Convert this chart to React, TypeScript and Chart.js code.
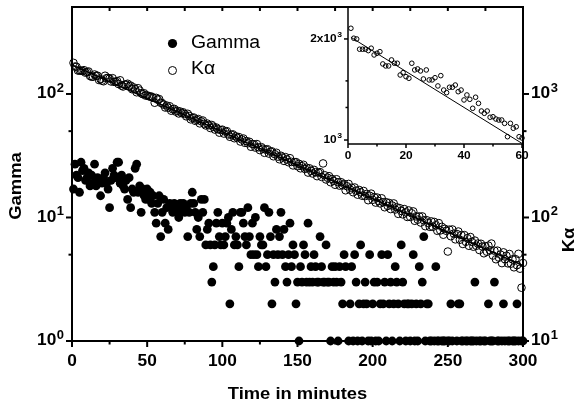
import React, { useEffect, useRef } from 'react';
import { Chart, registerables } from 'chart.js';

Chart.register(...registerables);

// ---------- data ----------
// one value per minute, t = 1 .. 300
const gammaCounts = [
  17, 27, 22, 21, 16, 28, 24, 25, 20, 21,
  23, 18, 22, 19, 27, 18, 21, 20, 15, 19,
  21, 23, 19, 17, 12, 20, 25, 22, 21, 28,
  28, 19, 22, 18, 17, 20, 14, 21, 12, 17,
  16, 25, 27, 16, 18, 11, 17, 15, 14, 17,
  14, 16, 13, 15, 11, 9, 13, 15, 7, 11,
  14, 9, 12, 8, 13, 12, 11, 13, 12, 11,
  10, 13, 12, 13, 11, 12, 7, 11, 13, 16,
  13, 11, 8, 10, 7, 14, 11, 14, 6, 8,
  9, 6, 3, 4, 6, 9, 11, 7, 6, 9,
  6, 7, 9, 10, 2, 8, 11, 6, 7, 6,
  4, 11, 11, 9, 7, 6, 12, 7, 5, 9,
  5, 10, 5, 4, 7, 6, 6, 12, 4, 5,
  11, 7, 2, 5, 3, 8, 5, 7, 11, 5,
  8, 4, 3, 5, 9, 4, 6, 5, 2, 3,
  1, 4, 3, 6, 5, 3, 9, 3, 4, 3,
  5, 4, 3, 3, 7, 4, 3, 3, 6, 3,
  3, 1, 4, 3, 4, 3, 1, 4, 3, 2,
  5, 4, 0, 1, 2, 4, 1, 5, 3, 1,
  2, 6, 1, 2, 3, 2, 1, 5, 1, 2,
  3, 1, 3, 1, 2, 5, 2, 3, 1, 5,
  2, 3, 1, 2, 4, 3, 2, 1, 6, 3,
  2, 1, 2, 2, 1, 2, 5, 1, 2, 1,
  4, 2, 3, 7, 1, 2, 2, 1, 1, 0,
  1, 4, 1, 1, 0, 1, 1, 1, 0, 1,
  1, 2, 1, 0, 0, 1, 2, 2, 1, 1,
  0, 1, 1, 0, 1, 1, 1, 3, 1, 0,
  1, 1, 0, 1, 1, 0, 2, 1, 1, 1,
  3, 0, 1, 1, 0, 1, 2, 1, 0, 1,
  1, 0, 1, 1, 1, 2, 1, 0, 1, 1,
];

const kaCounts = [
  1786, 1668, 1660, 1547, 1547, 1547, 1532, 1558, 1487, 1505,
  1521, 1399, 1379, 1379, 1438, 1405, 1405, 1296, 1317, 1282,
  1267, 1405, 1342, 1351, 1333, 1262, 1342, 1253, 1253, 1272,
  1203, 1291, 1169, 1149, 1192, 1192, 1210, 1156, 1169, 1092,
  1130, 1097, 1032, 1113, 1067, 1013, 997, 1013, 970, 974,
  959, 952, 952, 930, 849, 930, 900, 909, 849, 842,
  819, 777, 806, 774, 795, 732, 752, 758, 720, 732,
  695, 721, 699, 710, 688, 659, 691, 663, 623, 640,
  645, 606, 617, 627, 578, 600, 610, 574, 556, 576,
  558, 530, 561, 543, 515, 535, 518, 486, 510, 514,
  478, 496, 500, 470, 450, 467, 471, 438, 454, 440,
  448, 412, 428, 436, 402, 416, 399, 410, 374, 393,
  391, 368, 393, 370, 351, 371, 360, 334, 354, 357,
  329, 341, 343, 313, 325, 334, 311, 296, 316, 306,
  287, 308, 295, 280, 302, 282, 264, 280, 281, 260,
  272, 250, 260, 267, 247, 253, 231, 250, 239, 227,
  243, 233, 216, 230, 233, 213, 274, 220, 203, 210,
  216, 193, 205, 198, 184, 204, 193, 181, 193, 182,
  187, 166, 179, 187, 168, 174, 160, 175, 165, 153,
  167, 160, 150, 164, 149, 155, 138, 150, 156, 139,
  146, 132, 145, 136, 130, 143, 133, 121, 133, 124,
  131, 117, 125, 130, 116, 121, 107, 119, 113, 106,
  117, 110, 101, 114, 101, 108, 112, 94, 102, 96,
  102, 91, 102, 95, 85, 95, 90, 84, 93, 84,
  92, 86.5, 78, 90, 78.5, 84, 72.5, 81, 78, 53,
  79.7, 70.5, 80, 74, 66.5, 73.5, 77, 66, 72, 61,
  72, 63.5, 68, 59, 69.5, 63.5, 58, 65, 59, 61.5,
  54.5, 61.3, 58.2, 51.3, 58.5, 52.8, 59.2, 54.1, 61.5, 49.2,
  53.8, 45.9, 53.9, 47.3, 50.1, 42.7, 52.2, 45.9, 49, 42.5,
  50.6, 42.3, 45.8, 39.5, 46, 41.1, 50.8, 38.5, 27, 42.8,
];

// inset: first 60 minutes of K-alpha
const insetKa = [
  2152, 2010, 2000, 1864, 1864, 1864, 1846, 1877, 1792, 1813,
  1833, 1685, 1662, 1662, 1732, 1693, 1693, 1562, 1587, 1544,
  1527, 1693, 1617, 1628, 1606, 1520, 1617, 1510, 1510, 1533,
  1449, 1555, 1409, 1384, 1436, 1436, 1458, 1393, 1409, 1316,
  1362, 1322, 1243, 1341, 1286, 1220, 1201, 1220, 1169, 1173,
  1155, 1147, 1147, 1121, 1023, 1121, 1084, 1095, 1023, 1014,
];

// exponential fits (straight on log axes): end points
const fitMainT = [0, 300];
const fitMainKa = [1718, 40.8];
const fitInsetT = [1, 60];
const fitInsetKa = [2023, 977];

// axes
const xMajor = [0, 50, 100, 150, 200, 250, 300];
const xMinor = [25, 75, 125, 175, 225, 275];
const xTop = [25, 50, 75, 100, 125, 150, 175, 200, 225, 250, 275];
const gammaMajor = [1, 10, 100];
const gammaMinor = [5, 50];
const kaMajor = [10, 100, 1000];
const kaMinor = [50, 500];
const insetXMajor = [0, 20, 40, 60];
const insetXMinor = [10, 30, 50];
const insetYMajor = [1000, 2000];
const insetYLabels = ['10', '2x10'];
const insetYMinor = [1250, 1500];

const seriesNames = ['Gamma', 'K\u03b1'];
const xTitle = 'Time in minutes';

// ---------- drawing helpers ----------
const FONT = '"Liberation Sans", Arial, Helvetica, sans-serif';
const SX = 1.08;

function drawText(ctx: any, s: string, x: number, y: number, font: string, align = 'left') {
  ctx.save();
  ctx.font = font;
  ctx.textBaseline = 'middle';
  ctx.textAlign = 'left';
  const w = ctx.measureText(s).width * SX;
  const x0 = align === 'left' ? x : align === 'right' ? x - w : x - w / 2;
  ctx.translate(x0, y);
  ctx.scale(SX, 1);
  ctx.fillStyle = '#000';
  ctx.fillText(s, 0, 0);
  ctx.restore();
  return w;
}

function drawPow(ctx: any, base: string, exp: string, x: number, y: number, align: string, bs: number, es: number) {
  ctx.save();
  ctx.font = `bold ${bs}px ${FONT}`;
  const wb = ctx.measureText(base).width * SX;
  ctx.font = `bold ${es}px ${FONT}`;
  const we = ctx.measureText(exp).width * SX;
  ctx.restore();
  const gap = 0.5;
  const total = wb + gap + we;
  const x0 = align === 'left' ? x : align === 'right' ? x - total : x - total / 2;
  drawText(ctx, base, x0, y, `bold ${bs}px ${FONT}`);
  drawText(ctx, exp, x0 + wb + gap, y - bs * 0.36, `bold ${es}px ${FONT}`);
}

function seg(ctx: any, x1: number, y1: number, x2: number, y2: number) {
  ctx.beginPath();
  ctx.moveTo(x1, y1);
  ctx.lineTo(x2, y2);
  ctx.stroke();
}

function drawRotated(ctx: any, s: string, cx: number, cy: number, font: string, angle: number) {
  ctx.save();
  ctx.translate(cx, cy);
  ctx.rotate(angle);
  drawText(ctx, s, 0, 0, font, 'center');
  ctx.restore();
}

const mainDecor = {
  id: 'mainDecor',
  beforeDatasetsDraw(chart: any) {
    const { ctx, chartArea: a, scales } = chart;
    const x = scales.x, yl = scales.y, yr = scales.y2;
    ctx.save();
    ctx.strokeStyle = '#000';
    ctx.lineWidth = 2;
    ctx.lineCap = 'butt';
    ctx.strokeRect(a.left, a.top, a.right - a.left, a.bottom - a.top);
    for (const v of xMajor) {
      const p = x.getPixelForValue(v);
      seg(ctx, p, a.bottom, p, a.bottom + 6);
    }
    for (const v of xMinor) {
      const p = x.getPixelForValue(v);
      seg(ctx, p, a.bottom, p, a.bottom + 3.5);
    }
    for (const v of xTop) {
      const p = x.getPixelForValue(v);
      seg(ctx, p, a.top, p, a.top + 4);
    }
    for (const v of gammaMajor) {
      const p = yl.getPixelForValue(v);
      seg(ctx, a.left - 6, p, a.left, p);
    }
    for (const v of gammaMinor) {
      const p = yl.getPixelForValue(v);
      seg(ctx, a.left - 3.5, p, a.left, p);
    }
    for (const v of kaMajor) {
      const p = yr.getPixelForValue(v);
      seg(ctx, a.right, p, a.right + 6, p);
    }
    for (const v of kaMinor) {
      const p = yr.getPixelForValue(v);
      seg(ctx, a.right, p, a.right + 3.5, p);
    }
    ctx.restore();
  },
  afterDraw(chart: any) {
    const { ctx, chartArea: a, scales } = chart;
    const x = scales.x, yl = scales.y, yr = scales.y2;
    ctx.save();
    ctx.fillStyle = '#000';
    for (const v of xMajor) {
      drawText(ctx, String(v), x.getPixelForValue(v), a.bottom + 21, `bold 16px ${FONT}`, 'center');
    }
    for (const v of gammaMajor) {
      drawPow(ctx, '10', String(Math.round(Math.log10(v))), a.left - 8, yl.getPixelForValue(v), 'right', 16, 12);
    }
    for (const v of kaMajor) {
      drawPow(ctx, '10', String(Math.round(Math.log10(v))), a.right + 8, yr.getPixelForValue(v), 'left', 16, 12);
    }
    drawText(ctx, xTitle, (a.left + a.right) / 2, 394, `bold 17px ${FONT}`, 'center');
    drawRotated(ctx, seriesNames[0], 16, 186, `bold 17px ${FONT}`, -Math.PI / 2);
    drawRotated(ctx, seriesNames[1], 569, 240, `bold 17px ${FONT}`, -Math.PI / 2);
    // legend
    ctx.beginPath();
    ctx.arc(172.5, 43.5, 4.6, 0, Math.PI * 2);
    ctx.fill();
    ctx.beginPath();
    ctx.lineWidth = 1;
    ctx.strokeStyle = '#000';
    ctx.arc(172.5, 70.5, 4, 0, Math.PI * 2);
    ctx.stroke();
    drawText(ctx, seriesNames[0], 191, 43.5, `18px ${FONT}`);
    drawText(ctx, seriesNames[1], 191, 69.5, `18px ${FONT}`);
    ctx.restore();
  },
};

const insetDecor = {
  id: 'insetDecor',
  beforeDatasetsDraw(chart: any) {
    const { ctx, chartArea: a, scales } = chart;
    const x = scales.x, y = scales.y;
    ctx.save();
    ctx.strokeStyle = '#000';
    ctx.lineWidth = 1.5;
    seg(ctx, a.left, a.top, a.left, a.bottom);
    seg(ctx, a.left, a.bottom, a.right, a.bottom);
    for (const v of insetXMajor) {
      const p = x.getPixelForValue(v);
      seg(ctx, p, a.bottom, p, a.bottom + 4);
    }
    for (const v of insetXMinor) {
      const p = x.getPixelForValue(v);
      seg(ctx, p, a.bottom, p, a.bottom + 2.5);
    }
    for (const v of insetYMajor) {
      const p = y.getPixelForValue(v);
      seg(ctx, a.left - 4, p, a.left, p);
    }
    for (const v of insetYMinor) {
      const p = y.getPixelForValue(v);
      seg(ctx, a.left - 2.5, p, a.left, p);
    }
    ctx.restore();
  },
  afterDraw(chart: any) {
    const { ctx, chartArea: a, scales } = chart;
    const x = scales.x, y = scales.y;
    ctx.save();
    for (const v of insetXMajor) {
      drawText(ctx, String(v), x.getPixelForValue(v), a.bottom + 12, `bold 11px ${FONT}`, 'center');
    }
    insetYMajor.forEach((v, i) => {
      drawPow(ctx, insetYLabels[i], '3', a.left - 6, y.getPixelForValue(v), 'right', 11, 8);
    });
    ctx.restore();
  },
};

export default function App() {
  const mainRef = useRef<HTMLCanvasElement>(null);
  const insetRef = useRef<HTMLCanvasElement>(null);

  useEffect(() => {
    const main = new Chart(mainRef.current as HTMLCanvasElement, {
      type: 'scatter',
      data: {
        datasets: [
          {
            type: 'line',
            label: 'fit',
            data: fitMainT.map((t, i) => ({ x: t, y: fitMainKa[i] })),
            yAxisID: 'y2',
            borderColor: '#000',
            borderWidth: 1.6,
            pointRadius: 0,
            fill: false,
            order: 0,
          } as any,
          {
            label: seriesNames[1],
            data: kaCounts.map((v, i) => ({ x: i + 1, y: v })),
            yAxisID: 'y2',
            pointRadius: 3.8,
            pointBackgroundColor: 'rgba(0,0,0,0)',
            pointBorderColor: '#000',
            pointBorderWidth: 1,
            clip: false,
            order: 1,
          } as any,
          {
            label: seriesNames[0],
            data: gammaCounts.map((v, i) => ({ x: i + 1, y: v > 0 ? v : null })),
            yAxisID: 'y',
            pointRadius: 4.4,
            pointBackgroundColor: '#000',
            pointBorderWidth: 0,
            clip: false,
            order: 2,
          } as any,
        ],
      },
      options: {
        responsive: false,
        animation: false,
        events: [],
        layout: { padding: { left: 72, right: 60, top: 7, bottom: 64 } },
        scales: {
          x: { type: 'linear', min: 0, max: 300, display: false },
          y: { type: 'logarithmic', min: 1, max: 506, display: false },
          y2: { type: 'logarithmic', min: 10, max: 5060, display: false },
        },
        plugins: { legend: { display: false }, tooltip: { enabled: false } },
      } as any,
      plugins: [mainDecor],
    });

    const inset = new Chart(insetRef.current as HTMLCanvasElement, {
      type: 'scatter',
      data: {
        datasets: [
          {
            type: 'line',
            data: fitInsetT.map((t, i) => ({ x: t, y: fitInsetKa[i] })),
            borderColor: '#000',
            borderWidth: 1,
            pointRadius: 0,
            fill: false,
            order: 0,
          } as any,
          {
            data: insetKa.map((v, i) => ({ x: i + 1, y: v })),
            pointRadius: 2.3,
            pointBackgroundColor: 'rgba(0,0,0,0)',
            pointBorderColor: '#000',
            pointBorderWidth: 1,
            clip: false,
            order: 1,
          } as any,
        ],
      },
      options: {
        responsive: false,
        animation: false,
        events: [],
        layout: { padding: { left: 48, right: 8, top: 7, bottom: 26 } },
        scales: {
          x: { type: 'linear', min: 0, max: 60, display: false },
          y: { type: 'logarithmic', min: 973, max: 2490, display: false },
        },
        plugins: { legend: { display: false }, tooltip: { enabled: false } },
      } as any,
      plugins: [insetDecor],
    });

    return () => {
      main.destroy();
      inset.destroy();
    };
  }, []);

  return (
    <div style={{ position: 'absolute', left: 0, top: 0, width: 583, height: 405, background: '#fff' }}>
      <canvas ref={mainRef} width={583} height={405} style={{ position: 'absolute', left: 0, top: 0 }} />
      <canvas ref={insetRef} width={230} height={170} style={{ position: 'absolute', left: 300, top: 0 }} />
    </div>
  );
}
